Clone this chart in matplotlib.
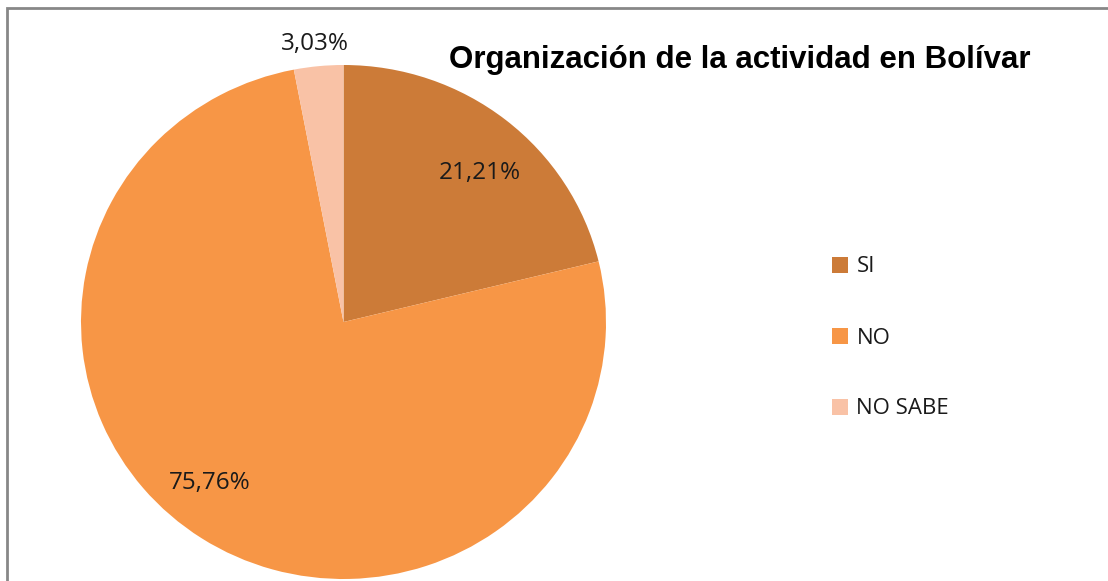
import matplotlib
matplotlib.use("Agg")
import matplotlib.pyplot as plt
from matplotlib.patches import Rectangle

# Survey answers: "Organización de la actividad en Bolívar"
categories = ["SI", "NO", "NO SABE"]
percentages = [21.21, 75.76, 3.03]
colors = ["#CC7B38", "#F79646", "#F9C2A6"]
title = "Organización de la actividad en Bolívar"

W, H = 1108, 581
fig = plt.figure(figsize=(W / 100, H / 100), dpi=100)
fig.patch.set_facecolor("white")

# chart-area frame (extends past the right/bottom edges)
fig.patches.append(Rectangle((7 / W, -0.1), 1.2, (H - 8) / H + 0.1,
                             transform=fig.transFigure, fill=False,
                             edgecolor="#878787", linewidth=2.0, zorder=0))

# pie area in pixel-based placement
left, right, top, bottom = 81, 606, 65, 579
ax = fig.add_axes([left / W, (H - bottom) / H, (right - left) / W, (bottom - top) / H])

wedges, texts = ax.pie(percentages, colors=colors, startangle=90, counterclock=False,
                       radius=1.0, wedgeprops=dict(linewidth=0))
ax.set_aspect("auto")
ax.set_xlim(-1, 1)
ax.set_ylim(-1, 1)
ax.axis("off")

# percentage labels placed along each wedge's bisector
label_pos = {"SI": (0.52, 0.58), "NO": (-0.51, -0.625), "NO SABE": (-0.11, 1.08)}
for cat, val in zip(categories, percentages):
    x, y = label_pos[cat]
    ax.text(x, y, f"{val:.2f}".replace(".", ",") + "%", ha="center", va="center",
            fontsize=17.5, family="Open Sans", color="#1a1a1a", clip_on=False)

fig.text(740 / W, 1 - 60 / H, title, ha="center", va="center",
         fontsize=22.5, fontweight="bold", family="Liberation Sans", color="black")

leg = fig.legend(wedges, categories, loc="center left",
                 bbox_to_anchor=(812 / W, 1 - 338 / H), frameon=False,
                 prop=dict(family="Open Sans", size=16), handlelength=0.7,
                 handleheight=0.7, handletextpad=0.4, labelspacing=2.25)
for t in leg.get_texts():
    t.set_color("#1a1a1a")

fig.savefig("out.png", dpi=100, facecolor="white")
